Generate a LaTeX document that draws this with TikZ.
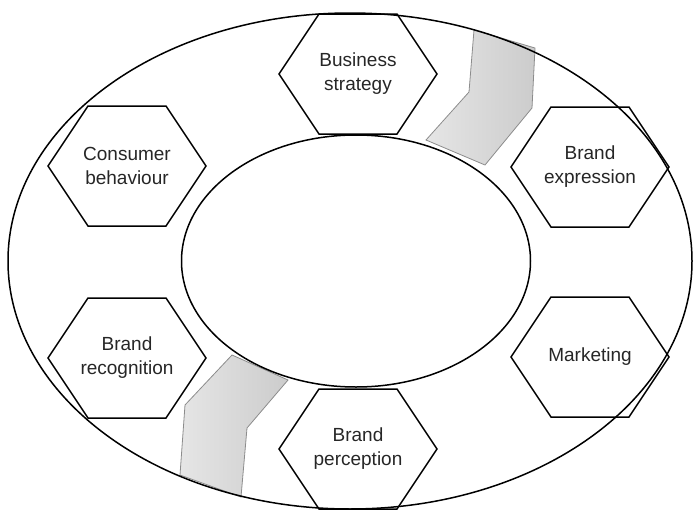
\documentclass[tikz,border=0pt]{standalone}
\usepackage{fontspec}
\setmainfont{Liberation Sans}
\usetikzlibrary{shapes.geometric}
\tikzset{
    hexline/.style={draw=black, line width=1.5pt, line join=miter}, % outline of the six boxes
    }
\newcommand{\hexbox}[1]{\draw[hexline, shift={(#1.center)}] (-79,0) -- (-39,-60) -- (39,-60) -- (79,0) -- (39,60) -- (-39,60) -- cycle;}

\begin{document}
\begin{tikzpicture}[x=1pt, y=-1pt,
ringnode/.style={ellipse, draw=black, line width=1.5pt, inner sep=0pt},
labelnode/.style={align=center, text=black!85, font=\fontsize{19}{24}\selectfont},
bandnode/.style={draw=black!45, line width=0.8pt, left color=black!10, right color=black!20},
]
\useasboundingbox (0,0) rectangle (697,512);

% grey bands
\path[bandnode] (474,30) -- (535,48) -- (532,108) -- (485,165) -- (426,140) -- (469,92) -- cycle;
\path[bandnode] (232,355) -- (288,380) -- (247,428) -- (241,497) -- (180,475) -- (185,405) -- cycle;

\node[ringnode, minimum width=684pt, minimum height=496pt] (outer) at (350,261) {};
\node[ringnode, minimum width=349pt, minimum height=252pt] (inner) at (356,261) {};

\node[labelnode] (strategy) at (358,74) {Business\\strategy};
\node[labelnode] (behaviour) at (127,166) {Consumer\\behaviour};
\node[labelnode] (expression) at (590,167) {Brand\\expression};
\node[labelnode] (recognition) at (127,358) {Brand\\recognition};
\node[labelnode] (marketing) at (590,357) {Marketing};
\node[labelnode] (perception) at (358,449) {Brand\\perception};

\hexbox{strategy}
\hexbox{behaviour}
\hexbox{expression}
\hexbox{recognition}
\hexbox{marketing}
\hexbox{perception}
\end{tikzpicture}
\end{document}
